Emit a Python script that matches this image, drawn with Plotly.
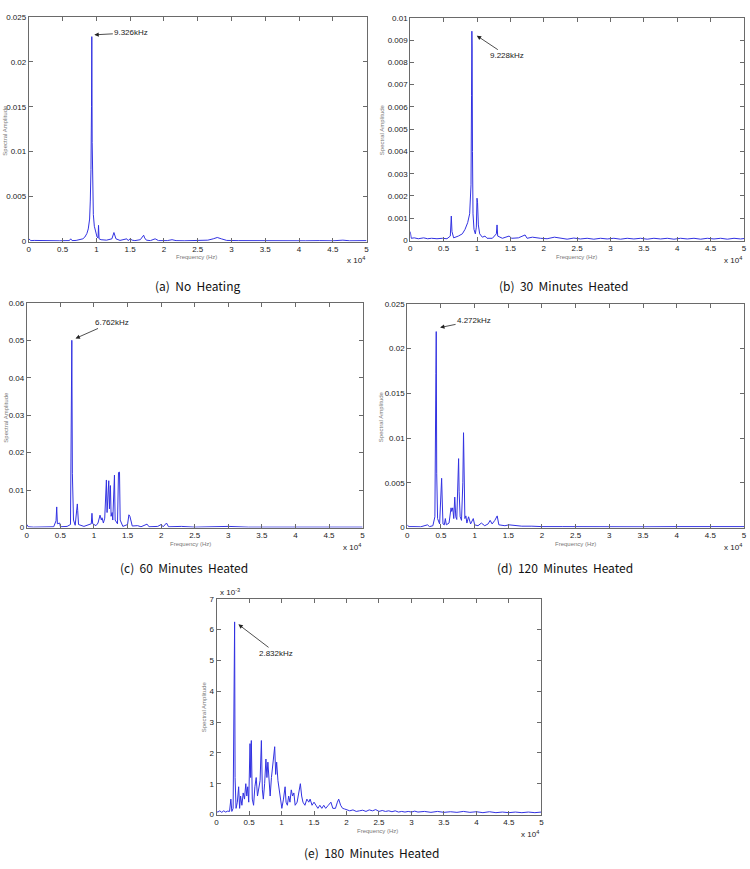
import plotly.graph_objects as go

# ---------------- data (frequency Hz, spectral amplitude) ----------------
spec_a = [(0,0.0003),(300,0.0001),(800,0.00012),(1500,0.0001),(2500,0.00008),(3500,0.0001),(4500,0.00008),
          (5500,0.0001),(6000,0.0001),(6200,0.0003),(6400,0.0001),(7000,0.00012),(7600,0.0002),(8000,0.0003),
          (8300,0.0005),(8600,0.0009),(8800,0.0014),(9000,0.0025),(9100,0.0045),(9200,0.008),(9280,0.015),
          (9326,0.0228),(9380,0.011),(9450,0.0055),(9550,0.003),(9700,0.0017),(9900,0.0009),(10100,0.0005),
          (10250,0.0004),(10320,0.0018),(10400,0.0003),(10700,0.0002),(11500,0.00015),(12300,0.0003),
          (12600,0.001),(12900,0.0003),(13500,0.00012),(14200,0.0002),(14500,0.0003),(14700,0.0001),
          (15000,0.0003),(15300,0.00015),(15700,0.0001),(16500,0.0002),(17000,0.0007),(17150,0.0004),
          (17400,0.00015),(18000,0.0001),(18700,0.0003),(19200,0.0001),(20500,0.0001),(21200,0.0002),
          (21800,0.0001),(23000,0.00008),(25000,0.0001),(26500,0.00015),(27300,0.0003),(27900,0.00045),
          (28500,0.0003),(29300,0.00012),(31000,0.0001),(33000,0.00008),(35000,0.0001),(37000,0.00008),
          (39000,0.0001),(41000,0.00008),(43000,0.0001),(45000,0.00008),(46500,0.00015),(47500,0.00008),
          (50000,0.0001)]

spec_b = [(0,0.0004),(150,0.0001),(600,0.00012),(1200,0.00008),(2000,0.00012),(2600,0.00008),(3200,0.0001),
          (4000,0.00008),(4800,0.0001),(5500,0.00008),(6000,0.0002),(6150,0.0011),(6250,0.0004),(6500,0.00012),
          (7200,0.0002),(7800,0.0003),(8200,0.0005),(8600,0.0008),(8900,0.0012),(9100,0.0025),(9180,0.0065),
          (9228,0.0094),(9270,0.0086),(9320,0.004),(9400,0.0012),(9550,0.0005),(9750,0.0003),(9900,0.0006),
          (10000,0.0019),(10080,0.0017),(10200,0.0007),(10400,0.0003),(10800,0.00015),(11200,0.0002),
          (11500,0.0001),(12300,0.0001),(12900,0.0003),(13000,0.0007),(13100,0.0002),(13800,0.0001),
          (14800,0.0002),(15200,0.0001),(16200,0.00012),(17200,0.00025),(17500,0.0001),(18300,0.00015),
          (19500,0.0001),(20500,0.00008),(21600,0.00015),(22500,0.0001),(23500,0.00006),(24500,0.00011),
          (25500,0.00007),(26500,0.0001),(27500,0.00006),(28500,0.0001),(29500,0.00007),(30500,0.0001),
          (31500,0.00006),(32500,0.0001),(33500,0.00007),(34500,0.0001),(35500,0.00006),(36500,0.0001),
          (37500,0.00007),(38500,0.0001),(39500,0.00006),(40500,0.0001),(41500,0.00007),(42500,0.0001),
          (43500,0.00006),(44500,0.0001),(45500,0.00007),(46500,0.0001),(47500,0.00006),(48500,0.0001),
          (49500,0.00007),(50000,0.00009)]

spec_c = [(0,0.0008),(200,0.0002),(1000,0.0001),(2000,0.0001),(3000,0.0001),(4000,0.0002),(4350,0.0018),
          (4450,0.0055),(4550,0.001),(4900,0.0012),(5000,0.0002),(6000,0.0003),(6500,0.0008),(6620,0.021),
          (6700,0.050),(6780,0.0145),(6950,0.002),(7200,0.0006),(7450,0.005),(7520,0.0063),(7580,0.0045),
          (7700,0.0008),(8500,0.0003),(9600,0.001),(9700,0.0038),(9800,0.001),(10300,0.0005),(10600,0.0012),
          (10900,0.0033),(11100,0.002),(11200,0.0026),(11400,0.0012),(11600,0.0025),(11750,0.008),
          (11850,0.0127),(11950,0.004),(12050,0.0065),(12200,0.0125),(12300,0.005),(12450,0.0112),
          (12550,0.003),(12700,0.004),(12800,0.002),(12900,0.008),(13000,0.013),(13050,0.014),(13150,0.002),
          (13500,0.001),(13650,0.0147),(13800,0.0148),(13900,0.002),(14300,0.0003),(15000,0.0008),
          (15200,0.0034),(15350,0.003),(15500,0.0015),(15700,0.0004),(16500,0.0005),(17000,0.0002),
          (17900,0.0009),(18200,0.0002),(19500,0.0003),(20000,0.0008),(20300,0.0002),(20800,0.0012),
          (21100,0.0002),(23000,0.0003),(25000,0.0001),(27000,0.00015),(30000,0.0003),(33000,0.0001),
          (36000,0.00012),(40000,0.0001),(45000,0.0001),(50000,0.0001)]

spec_d = [(0,0.0003),(200,0.0001),(1000,0.0001),(2000,0.00008),(3000,0.0003),(3300,0.0001),(3800,0.0002),
          (4100,0.0012),(4250,0.0172),(4300,0.0219),(4370,0.006),(4500,0.001),(4800,0.0004),(5100,0.0055),
          (5180,0.0033),(5300,0.0004),(5500,0.0003),(5650,0.001),(5800,0.0003),(6200,0.0005),(6500,0.0022),
          (6600,0.0018),(6750,0.0022),(6900,0.001),(7050,0.0034),(7200,0.0012),(7350,0.0009),(7550,0.006),
          (7620,0.0077),(7700,0.004),(7850,0.0012),(8050,0.0008),(8250,0.005),(8350,0.0106),(8430,0.003),
          (8550,0.001),(8700,0.0013),(8850,0.0005),(9100,0.0012),(9400,0.0004),(9800,0.001),(10000,0.0003),
          (10500,0.0002),(11000,0.0005),(11500,0.0002),(12000,0.0004),(12300,0.0008),(12600,0.0004),
          (13000,0.0008),(13350,0.0013),(13600,0.0003),(14500,0.0002),(15100,0.0003),(16000,0.0002),
          (17000,0.00015),(18500,0.00015),(20000,0.0001),(23000,0.0001),(26000,0.00008),(30000,0.0001),
          (35000,0.00008),(40000,0.0001),(45000,0.00008),(50000,0.0001)]

spec_e = [(0,0.0001),(200,0.00008),(500,0.00012),(800,0.00007),(1100,0.00012),(1400,0.00008),(1700,0.00011),
          (2000,0.0001),(2200,0.0005),(2350,0.0001),(2550,0.0002),(2700,0.0042),(2780,0.00625),(2850,0.0012),
          (3000,0.0002),(3200,0.0004),(3400,0.0009),(3550,0.0002),(3700,0.0006),(3900,0.0003),(4100,0.0007),
          (4300,0.0005),(4500,0.001),(4650,0.0006),(4800,0.0009),(4950,0.0004),(5150,0.0023),(5250,0.0012),
          (5350,0.0024),(5500,0.0005),(5700,0.0003),(5900,0.0009),(6100,0.0012),(6300,0.0006),(6500,0.0008),
          (6700,0.0011),(6900,0.0024),(7050,0.0008),(7200,0.0005),(7400,0.001),(7600,0.0018),(7750,0.0012),
          (7900,0.0017),(8050,0.0013),(8250,0.0006),(8450,0.0012),(8600,0.0015),(8800,0.0021),(8950,0.0022),
          (9100,0.0013),(9250,0.0017),(9450,0.0011),(9650,0.0008),(9850,0.0004),(10050,0.0002),(10300,0.0005),
          (10550,0.0009),(10700,0.0004),(10900,0.0003),(11100,0.0006),(11300,0.0004),(11500,0.0008),
          (11700,0.0006),(11900,0.0007),(12100,0.0003),(12400,0.0004),(12700,0.0007),(12900,0.001),
          (13100,0.0006),(13300,0.0004),(13600,0.0003),(13900,0.0005),(14200,0.0004),(14400,0.0005),
          (14700,0.0003),(15000,0.0004),(15300,0.0003),(15600,0.0002),(15900,0.0003),(16200,0.0002),
          (16500,0.0003),(16800,0.0002),(17200,0.0003),(17600,0.0004),(17900,0.0002),(18300,0.0002),
          (18600,0.0004),(18800,0.0005),(19100,0.0003),(19400,0.0002),(19700,0.00018),(20100,0.00015),
          (20500,0.00012),(21000,0.00015),(21500,0.0001),(22000,0.00012),(22500,0.00014),(23000,0.0001),
          (23500,0.00015),(24000,0.00012),(24500,0.00016),(25000,0.0001),(25500,0.00013),(26000,0.0001),
          (26500,0.00012),(27000,0.00009),(27500,0.00012),(28000,0.00008),(28500,0.0001),(29000,0.00008),
          (29500,0.0001),(30000,0.00008),(30500,0.00011),(31000,0.00008),(32000,0.0001),(33000,0.00007),
          (34000,0.0001),(35000,0.00007),(36000,0.00009),(37000,0.00007),(38000,0.0001),(39000,0.00007),
          (40000,0.00009),(41000,0.00006),(42000,0.00009),(43000,0.00006),(44000,0.00008),(45000,0.00006),
          (46000,0.00008),(47000,0.00006),(48000,0.00008),(49000,0.00006),(50000,0.00008)]

x_tickvals = [0, 5000, 10000, 15000, 20000, 25000, 30000, 35000, 40000, 45000, 50000]
x_ticktext = ["0", "0.5", "1", "1.5", "2", "2.5", "3", "3.5", "4", "4.5", "5"]

y_ticks_a = [0, 0.005, 0.01, 0.015, 0.02, 0.025]
y_ticks_b = [0, 0.001, 0.002, 0.003, 0.004, 0.005, 0.006, 0.007, 0.008, 0.009, 0.01]
y_ticks_c = [0, 0.01, 0.02, 0.03, 0.04, 0.05, 0.06]
y_ticks_d = [0, 0.005, 0.01, 0.015, 0.02, 0.025]
y_ticks_e = [0, 0.001, 0.002, 0.003, 0.004, 0.005, 0.006, 0.007]
y_text_e = ["0", "1", "2", "3", "4", "5", "6", "7"]

peak_labels = ["9.326kHz", "9.228kHz", "6.762kHz", "4.272kHz", "2.832kHz"]
captions = ["(a)\u00a0 No\u00a0 Heating", "(b)\u00a0 30\u00a0 Minutes\u00a0 Heated",
            "(c)\u00a0 60\u00a0 Minutes\u00a0 Heated", "(d)\u00a0 120\u00a0 Minutes\u00a0 Heated",
            "(e)\u00a0 180\u00a0 Minutes\u00a0 Heated"]

# ---------------- layout geometry (pixels) ----------------
W, H = 750, 869
def px(x): return x / W
def py(y): return 1 - y / H

panels = [
    dict(l=27, r=367, t=13, b=240, spec=spec_a, yt=y_ticks_a, ytx=None, ymax=0.025),
    dict(l=411, r=747, t=14, b=239, spec=spec_b, yt=y_ticks_b, ytx=None, ymax=0.01),
    dict(l=25, r=363, t=302, b=529, spec=spec_c, yt=y_ticks_c, ytx=None, ymax=0.06),
    dict(l=408, r=747, t=303, b=529, spec=spec_d, yt=y_ticks_d, ytx=None, ymax=0.025),
    dict(l=216, r=543, t=601, b=819, spec=spec_e, yt=y_ticks_e, ytx=y_text_e, ymax=0.007),
]

arrow_tips = [(9700, 0.0230), (9970, 0.0092), (7250, 0.0505), (4870, 0.02235), (3360, 0.00617)]
arrow_offsets = [(37, -2), (30, 20), (36, -16), (34, -7), (38, 29)]

caption_pos = [(197, 284), (565, 284), (183, 569), (567, 569), (372, 857)]
freq_title_pos = [(196, 256), (578, 256), (190, 546), (577, 546), (378, 836)]
amp_title_pos = [(3, 127), (382, 127), (4, 417), (381, 417), (203, 710)]
x10_pos = [(367, 259), (747, 259), (363, 549), (747, 549), (543, 839)]

fig = go.Figure()
annotations = []
axis_font = dict(family="Arial, Liberation Sans, sans-serif", size=8, color="#222222")
line_col = "#6a6a6a"

for i, p in enumerate(panels):
    n = i + 1
    xa = "x" if n == 1 else f"x{n}"
    ya = "y" if n == 1 else f"y{n}"
    freqs = [f for f, a in p["spec"]]
    amps = [a for f, a in p["spec"]]
    fig.add_trace(go.Scatter(x=freqs, y=amps, mode="lines", xaxis=xa, yaxis=ya,
                             line=dict(color="rgb(50,50,225)", width=1), showlegend=False,
                             hoverinfo="skip"))
    xkey = "xaxis" if n == 1 else f"xaxis{n}"
    ykey = "yaxis" if n == 1 else f"yaxis{n}"
    fig.layout[xkey] = dict(domain=[px(p["l"]), px(p["r"])], anchor=ya, range=[0, 50000],
                            tickvals=x_tickvals, ticktext=x_ticktext, ticks="inside", ticklen=4,
                            tickcolor=line_col, showline=True, linecolor=line_col, linewidth=1,
                            mirror="ticks", showgrid=False, zeroline=False, tickfont=axis_font,
                            fixedrange=True)
    fig.layout[ykey] = dict(domain=[py(p["b"]), py(p["t"])], anchor=xa, range=[0, p["ymax"]],
                            tickvals=p["yt"], ticktext=p["ytx"] if p["ytx"] else [str(v) for v in p["yt"]],
                            ticks="inside", ticklen=4, tickcolor=line_col, showline=True,
                            linecolor=line_col, linewidth=1, mirror="ticks", showgrid=False,
                            zeroline=False, tickfont=axis_font, fixedrange=True)
    tx, ty = arrow_tips[i]
    ox, oy = arrow_offsets[i]
    annotations.append(dict(x=tx, y=ty, xref=xa, yref=ya, text=peak_labels[i], showarrow=True,
                            ax=ox, ay=oy, arrowhead=2, arrowsize=1.1, arrowwidth=0.8,
                            arrowcolor="#222222", font=dict(family="Arial, Liberation Sans", size=8,
                                                           color="#222222")))
    cx, cy = caption_pos[i]
    annotations.append(dict(x=px(cx), y=py(cy), xref="paper", yref="paper", text=captions[i],
                            showarrow=False, xanchor="center", yanchor="middle",
                            font=dict(family="Noto Sans CJK KR, DejaVu Sans", size=12, color="#111111")))
    fx, fy = freq_title_pos[i]
    annotations.append(dict(x=px(fx), y=py(fy), xref="paper", yref="paper", text="Frequency (Hz)",
                            showarrow=False, xanchor="center", yanchor="middle",
                            font=dict(family="Arial, Liberation Sans", size=6, color="#777777")))
    axx, axy = amp_title_pos[i]
    annotations.append(dict(x=px(axx), y=py(axy), xref="paper", yref="paper", text="Spectral Amplitude",
                            showarrow=False, xanchor="center", yanchor="middle", textangle=-90,
                            font=dict(family="Arial, Liberation Sans", size=6, color="#777777")))
    mx, my = x10_pos[i]
    annotations.append(dict(x=px(mx), y=py(my), xref="paper", yref="paper", text="x 10<sup>4</sup>",
                            showarrow=False, xanchor="right", yanchor="middle",
                            font=dict(family="Arial, Liberation Sans", size=8, color="#222222")))

annotations.append(dict(x=px(217), y=py(594), xref="paper", yref="paper", text="x 10<sup>-3</sup>",
                        showarrow=False, xanchor="left", yanchor="middle",
                        font=dict(family="Arial, Liberation Sans", size=8, color="#222222")))

fig.update_layout(width=W, height=H, margin=dict(l=0, r=0, t=0, b=0),
                  paper_bgcolor="white", plot_bgcolor="white", annotations=annotations,
                  showlegend=False)

fig.write_html("out.html")
